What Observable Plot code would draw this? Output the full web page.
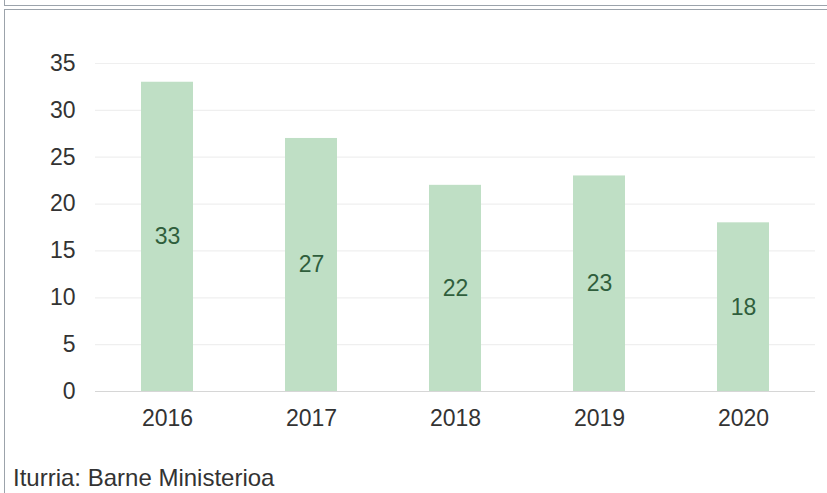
<!DOCTYPE html>
<html>
<head>
<meta charset="utf-8">
<script src="https://cdn.jsdelivr.net/npm/d3@7"></script>
<script src="https://cdn.jsdelivr.net/npm/@observablehq/plot@0.6"></script>
<style>
  html, body { margin: 0; padding: 0; background: #fff; overflow: hidden; }
  body { width: 827px; height: 493px; position: relative; font-family: "Liberation Sans", Arial, sans-serif; }
  #topbox { position: absolute; left: 4px; top: -20px; width: 900px; height: 24px; border: 1px solid #9ca3ab; }
  #box { position: absolute; left: 4px; top: 9px; width: 900px; height: 600px; border: 1px solid #9ca3ab; }
  #chart { position: absolute; left: 0; top: 0; }
  #caption { position: absolute; left: 13px; top: 466px; font-size: 24px; line-height: 1; color: #333; white-space: nowrap; }
</style>
</head>
<body>
<div id="topbox"></div>
<div id="box"></div>
<div id="chart"></div>
<div id="caption">Iturria: Barne Ministerioa</div>
<script>
const years = ["2016", "2017", "2018", "2019", "2020"];
const values = [33, 27, 22, 23, 18];
const yTicks = [0, 5, 10, 15, 20, 25, 30, 35];

const data = years.map((y, i) => ({year: y, value: values[i]}));

const chart = Plot.plot({
  width: 827,
  height: 440,
  marginLeft: 95,
  marginRight: 12,
  marginTop: 63,
  marginBottom: 49,
  style: {fontFamily: "'Liberation Sans', Arial, sans-serif", fontSize: "23px", color: "#333", background: "transparent"},
  x: {domain: years, paddingInner: 0.64, paddingOuter: 0.32, label: null, tickSize: 0, tickPadding: 18},
  y: {domain: [0, 35], ticks: yTicks, label: null, tickSize: 0, tickPadding: 20},
  marks: [
    Plot.ruleY(yTicks.filter(t => t > 0), {stroke: "#efefef", strokeWidth: 1.2}),
    Plot.barY(data, {x: "year", y: "value", fill: "#bfdfc5"}),
    Plot.ruleY([0], {stroke: "#d6d6d6", strokeWidth: 1.2}),
    Plot.text(data, {x: "year", y: d => d.value / 2, text: d => String(d.value), fill: "#2f5e3c", fontSize: 23})
  ]
});
document.getElementById("chart").appendChild(chart);
</script>
</body>
</html>
